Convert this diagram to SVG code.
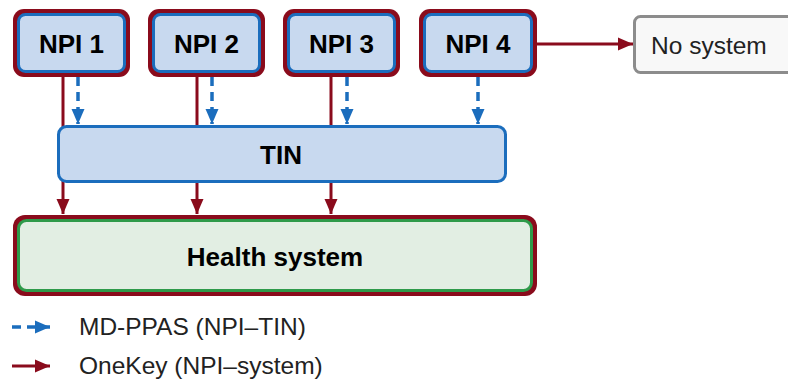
<svg xmlns="http://www.w3.org/2000/svg" width="788" height="379" viewBox="0 0 788 379">
<defs>
<style>
.outer{fill:#8a0b1c}
.npi{fill:#c8d9ef;stroke:#1b6dbd;stroke-width:3}
.lbl{font-family:"Liberation Sans",Arial,sans-serif;font-weight:bold;font-size:26px;fill:#000;text-anchor:middle}
.txt{font-family:"Liberation Sans",Arial,sans-serif;font-size:24.5px;fill:#222}
.red{stroke:#8a0b1c;stroke-width:3;fill:none}
.blue{stroke:#1b6dbd;stroke-width:3.5;fill:none;stroke-dasharray:9 6}
</style>
<marker id="ar" markerUnits="userSpaceOnUse" markerWidth="15" markerHeight="15" viewBox="0 0 15 15" refX="15" refY="7.5" orient="auto">
<path d="M0,1 L15,7.5 L0,14 Z" fill="#8a0b1c"/>
</marker>
<marker id="ab" markerUnits="userSpaceOnUse" markerWidth="15" markerHeight="15" viewBox="0 0 15 15" refX="15" refY="7.5" orient="auto">
<path d="M0,1 L15,7.5 L0,14 Z" fill="#1b6dbd"/>
</marker>
</defs>
<g id="connectors">
<line class="red" x1="63" y1="77" x2="63" y2="214" marker-end="url(#ar)"/>
<line class="red" x1="197" y1="77" x2="197" y2="214" marker-end="url(#ar)"/>
<line class="red" x1="331" y1="77" x2="331" y2="214" marker-end="url(#ar)"/>
<line class="red" x1="537" y1="44" x2="633" y2="44" marker-end="url(#ar)"/>
<line class="blue" x1="78" y1="77" x2="78" y2="124" marker-end="url(#ab)"/>
<line class="blue" x1="212" y1="77" x2="212" y2="124" marker-end="url(#ab)"/>
<line class="blue" x1="347" y1="77" x2="347" y2="124" marker-end="url(#ab)"/>
<line class="blue" x1="478" y1="77" x2="478" y2="124" marker-end="url(#ab)"/>
</g>
<g id="npi1">
<rect class="outer" x="13" y="9" width="117" height="68" rx="11"/>
<rect class="npi" x="18.5" y="14.5" width="106" height="57" rx="7"/>
<text class="lbl" x="71.5" y="53">NPI 1</text>
</g>
<g id="npi2">
<rect class="outer" x="148" y="9" width="117" height="68" rx="11"/>
<rect class="npi" x="153.5" y="14.5" width="106" height="57" rx="7"/>
<text class="lbl" x="206.5" y="53">NPI 2</text>
</g>
<g id="npi3">
<rect class="outer" x="283" y="9" width="117" height="68" rx="11"/>
<rect class="npi" x="288.5" y="14.5" width="106" height="57" rx="7"/>
<text class="lbl" x="341.5" y="53">NPI 3</text>
</g>
<g id="npi4">
<rect class="outer" x="419" y="9" width="118" height="68" rx="11"/>
<rect class="npi" x="424.5" y="14.5" width="107" height="57" rx="7"/>
<text class="lbl" x="478" y="53">NPI 4</text>
</g>
<g id="nosystem">
<rect x="634.5" y="16.5" width="160" height="56" rx="6" fill="#f8f8f8" stroke="#8c8c8c" stroke-width="3"/>
<text class="txt" x="651" y="54" font-size="27" fill="#111">No system</text>
</g>
<g id="tin">
<rect class="npi" x="58.5" y="126.5" width="447" height="55" rx="8"/>
<text class="lbl" x="281" y="164">TIN</text>
</g>
<g id="health">
<rect class="outer" x="13" y="215" width="524" height="81" rx="12"/>
<rect x="18.5" y="220.5" width="513" height="70" rx="8" fill="#e2eee3" stroke="#2e9a4a" stroke-width="3"/>
<text class="lbl" x="275" y="266" font-size="27">Health system</text>
</g>
<g id="legend">
<line class="blue" x1="12" y1="327" x2="50" y2="327" stroke-dasharray="11 6" marker-end="url(#ab)"/>
<text class="txt" x="79" y="335">MD-PPAS (NPI–TIN)</text>
<line class="red" x1="12" y1="366" x2="50" y2="366" marker-end="url(#ar)"/>
<text class="txt" x="79" y="374">OneKey (NPI–system)</text>
</g>
</svg>
